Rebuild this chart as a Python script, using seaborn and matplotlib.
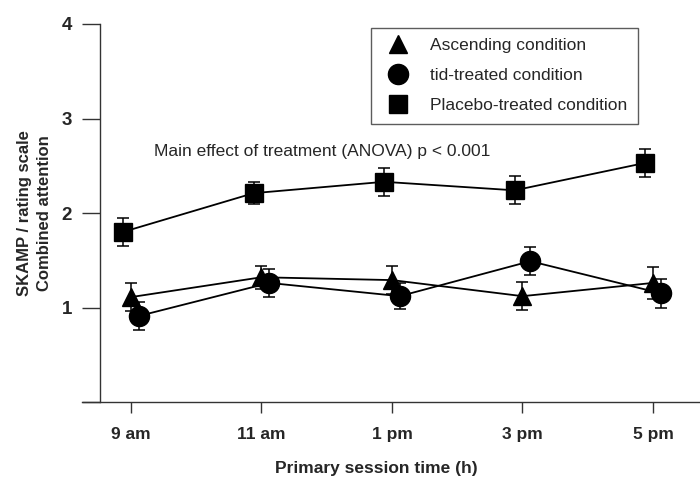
import numpy as np
import pandas as pd
import matplotlib
matplotlib.use("Agg")
import matplotlib.pyplot as plt
from matplotlib.lines import Line2D
import seaborn as sns

# valores
times = ['9 am', '11 am', '1 pm', '3 pm', '5 pm']
ascending = [1.11, 1.32, 1.29, 1.12, 1.26]
ascending_err = [0.15, 0.12, 0.15, 0.15, 0.17]
tid = [0.91, 1.26, 1.12, 1.49, 1.15]
tid_err = [0.15, 0.15, 0.14, 0.15, 0.15]
placebo = [1.80, 2.21, 2.33, 2.24, 2.53]
placebo_err = [0.15, 0.12, 0.15, 0.15, 0.15]

conditions = ['Placebo-treated condition', 'Ascending condition', 'tid-treated condition']
legend_order = ['Ascending condition', 'tid-treated condition', 'Placebo-treated condition']
markers = {'Ascending condition': '^', 'tid-treated condition': 'o',
           'Placebo-treated condition': 's'}

df = pd.DataFrame({
    'time': times * 3,
    'score': placebo + ascending + tid,
    'err': placebo_err + ascending_err + tid_err,
    'condition': [c for c in conditions for _ in times],
})

sns.set_style('ticks')
plt.rcParams['font.family'] = ['Liberation Sans', 'DejaVu Sans']

fig = plt.figure(figsize=(7.0, 4.79), dpi=100)
ax = fig.add_axes([82 / 700, 77 / 479, 618 / 700, 378 / 479])

dodge = 0.12
sns.pointplot(data=df, x='time', y='score', hue='condition', order=times,
              hue_order=conditions, palette=['black'] * 3,
              markers=[markers[c] for c in conditions], linestyles='-',
              dodge=dodge, errorbar=None, markersize=13, linewidth=1.3,
              legend=False, ax=ax)

# barras de error con el mismo desplazamiento que pointplot
n = len(conditions)
for i, cond in enumerate(conditions):
    sub = df[df['condition'] == cond]
    offset = -dodge / 2 + i * dodge / (n - 1)
    xs = np.arange(len(times)) + offset
    ax.errorbar(xs, sub['score'], yerr=sub['err'], fmt='none', ecolor='black',
                elinewidth=1.1, capsize=4, capthick=1.1, zorder=1.5)

for line in ax.lines:
    if line.get_marker() == 'o':
        line.set_markersize(14.5)

ax.set_xlim(-0.375, 4.36)
ax.set_ylim(0, 4)
ax.set_yticks([0, 1, 2, 3, 4])
ax.set_yticklabels(['', '1', '2', '3', '4'])
ax.spines['left'].set_position(('data', -0.2375))
ax.spines['right'].set_visible(False)
ax.spines['top'].set_visible(False)
for s in ['left', 'bottom']:
    ax.spines[s].set_color('#333333')
    ax.spines[s].set_linewidth(1.0)
ax.tick_params(axis='y', length=13, width=1.0, color='#333333', pad=7,
               labelsize=13.5)
ax.tick_params(axis='x', length=8, width=1.0, color='#333333', pad=10,
               labelsize=12.5)
for lab in ax.get_xticklabels() + ax.get_yticklabels():
    lab.set_fontweight('bold')

ax.set_xlabel('Primary session time (h)', fontsize=12.5, fontweight='bold',
              va='center')
ax.xaxis.set_label_coords(0.477, -0.175)
ax.set_ylabel('SKAMP / rating scale\nCombined attention', fontsize=12,
              fontweight='bold', multialignment='center', linespacing=1.45)
ax.yaxis.set_label_coords(-0.048, 0.5)

ax.text(0.176, 2.65, 'Main effect of treatment (ANOVA) p < 0.001',
        fontsize=12.5, va='center', ha='left')

handles = [Line2D([], [], marker=markers[c], linestyle='none', color='black',
                  markersize=14.5 if markers[c] == 'o' else 13)
           for c in legend_order]
leg = ax.legend(handles, legend_order, loc='upper left',
                bbox_to_anchor=(0.468, 0.99), borderaxespad=0, fontsize=12.5,
                frameon=True, fancybox=False, edgecolor='#333333',
                handlelength=1.9, handletextpad=0.9, borderpad=0.6,
                labelspacing=0.85)
leg.get_frame().set_linewidth(1.0)

fig.savefig('out.png', dpi=100)
